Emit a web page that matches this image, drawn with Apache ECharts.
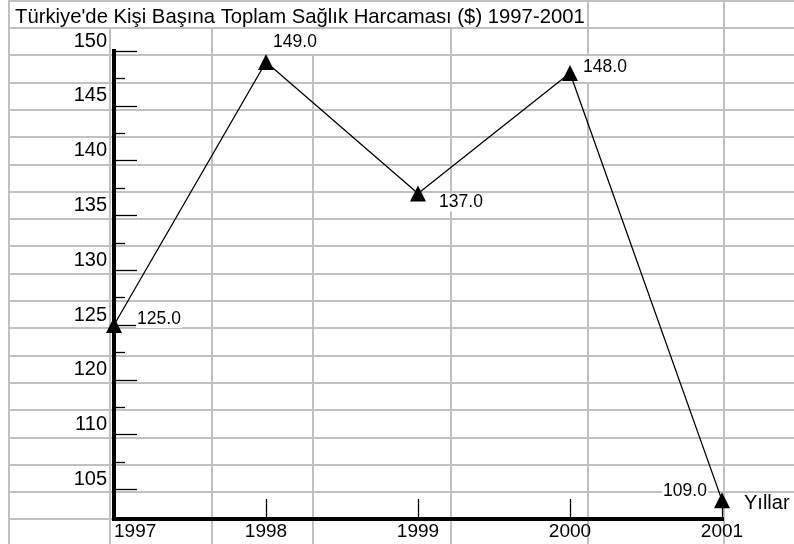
<!DOCTYPE html>
<html>
<head>
<meta charset="utf-8">
<script src="https://cdn.jsdelivr.net/npm/echarts@6/dist/echarts.min.js"></script>
<style>
  html, body { margin: 0; padding: 0; background: #fff; }
  #chart { width: 794px; height: 544px; }
</style>
</head>
<body>
<div id="chart"></div>
<script>
// veriler
const years = ['1997', '1998', '1999', '2000', '2001']
const spending = [125, 149, 137, 148, 109]

// y ekseni etiketleri (resimdeki gibi yazıldı)
const yTickValues = [110, 115, 120, 125, 130, 135, 140, 145, 150]
const yTickLabels = ['105', '110', '120', '125', '130', '135', '140', '145', '150']
const yMinorValues = [112.5, 117.5, 122.5, 127.5, 132.5, 137.5, 142.5, 147.5]

const font = '"Liberation Sans", Arial, sans-serif'

// veri etiketlerinin noktaya göre kayması
const labelOffsets = [[45, -6], [29, -20], [43, 9], [35, -6], [-37, -9]]

// arka plandaki tablo çizgileri
const colX = [9, 110, 212, 313, 451, 588, 724]
const rowTop = 0.7
const rowH = 27.3
const rowCount = 20

function sheetLines() {
  const els = []
  const line = (x1, y1, x2, y2) => els.push({
    type: 'line', z: -10, silent: true,
    shape: { x1, y1, x2, y2 },
    style: { stroke: '#c0c0c0', lineWidth: 2 }
  })
  const r = k => Math.round(rowTop + k * rowH)
  for (let k = 0; k < rowCount; k++) {
    line(9, r(k), k === rowCount - 1 ? 724 : 794, r(k))
  }
  colX.forEach(x => {
    // başlık satırında yazı çizgileri örtüyor
    let start = (x > 9 && x < 588) ? r(1) : 0
    if (x === 313) start = r(2)
    if (x === 588) {
      line(x, 0, x, r(2))
      line(x, r(3), x, 544)
      return
    }
    line(x, start, x, 544)
  })
  return els
}

const chart = echarts.init(document.getElementById('chart'))

const option = {
  animation: false,
  backgroundColor: '#fff',
  textStyle: { fontFamily: font },
  title: {
    text: "Türkiye'de Kişi Başına Toplam Sağlık Harcaması ($) 1997-2001",
    left: 10,
    top: 2,
    textStyle: { fontSize: 20.3, fontWeight: 'normal', color: '#000', fontFamily: font }
  },
  graphic: sheetLines(),
  grid: { left: 114, right: 72, top: 51, bottom: 25 },
  xAxis: {
    type: 'category',
    data: years,
    boundaryGap: false,
    name: 'Yıllar',
    nameLocation: 'end',
    nameGap: 22,
    nameTextStyle: {
      fontSize: 20, color: '#000', align: 'left', verticalAlign: 'bottom',
      padding: [0, 0, 6, 0], fontFamily: font
    },
    axisLine: { show: true, lineStyle: { color: '#000', width: 4, cap: 'square' } },
    axisTick: { show: true, inside: true, length: 20, lineStyle: { color: '#000', width: 1.3 } },
    axisLabel: { fontSize: 19, color: '#000', margin: 3, alignMinLabel: 'left', fontFamily: font },
    splitLine: { show: false }
  },
  yAxis: [
    {
      type: 'value',
      min: 107.3,
      max: 150,
      axisLine: { show: true, lineStyle: { color: '#000', width: 4, cap: 'square' } },
      axisTick: {
        show: true, inside: true, length: 23, customValues: yTickValues,
        lineStyle: { color: '#000', width: 1.3 }
      },
      axisLabel: {
        customValues: yTickValues,
        formatter: v => yTickLabels[yTickValues.indexOf(v)],
        fontSize: 20, color: '#000', margin: 7,
        verticalAlign: 'bottom', padding: [0, 0, 0, 0], fontFamily: font
      },
      splitLine: { show: false }
    },
    {
      type: 'value',
      min: 107.3,
      max: 150,
      position: 'left',
      axisLine: { show: false },
      axisTick: {
        show: true, inside: true, length: 11, customValues: yMinorValues,
        lineStyle: { color: '#000', width: 1.3 }
      },
      axisLabel: { show: false },
      splitLine: { show: false }
    }
  ],
  series: [
    {
      type: 'line',
      yAxisIndex: 0,
      data: spending.map((v, i) => ({
        value: v,
        label: { position: 'inside', offset: labelOffsets[i] }
      })),
      symbol: 'triangle',
      symbolSize: 16,
      itemStyle: { color: '#000' },
      lineStyle: { color: '#000', width: 1.3 },
      label: {
        show: true,
        formatter: p => p.value.toFixed(1),
        fontSize: 17.5,
        color: '#000',
        backgroundColor: '#fff',
        padding: [0, 1],
        fontFamily: font
      },
      emphasis: { disabled: true },
      z: 5
    }
  ]
}

chart.setOption(option)
window.addEventListener('resize', () => chart.resize())
</script>
</body>
</html>
